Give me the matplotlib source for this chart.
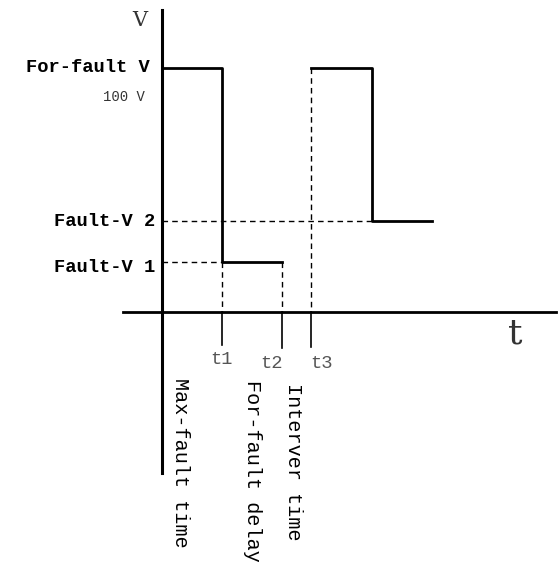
import matplotlib
matplotlib.use("Agg")
import matplotlib.pyplot as plt

# voltage levels (relative units, 0 = time axis)
v_pre = 244
v_fault1 = 50
v_fault2 = 91

# time marks (relative units, 0 = voltage axis)
t1 = 60
t2 = 120
t3 = 149
t_drop2 = 210
t_end = 270

level_labels = ["For-fault V", "Fault-V 2", "Fault-V 1"]
time_labels = ["t1", "t2", "t3"]
span_labels = ["Max-fault time", "For-fault delay", "Interver time"]

mono = ["Liberation Mono", "DejaVu Sans Mono"]

fig = plt.figure(figsize=(5.58, 5.62), dpi=100)
ax = fig.add_axes([0, 0, 1, 1])
ax.set_xlim(-162, 396)
ax.set_ylim(-250, 312)
ax.axis("off")

# axes
ax.plot([-39, 394], [0, 0], color="black", lw=2.0)
ax.plot([0, 0], [-161, 302], color="black", lw=2.2)

# first pulse: pre-fault -> fault V1 until t2
ax.plot([0, t1, t1, t2], [v_pre, v_pre, v_fault1, v_fault1], color="black", lw=2.0)
# second pulse from t3
ax.plot([t3, t_drop2, t_drop2, t_end], [v_pre, v_pre, v_fault2, v_fault2], color="black", lw=2.0)

# dashed guides
dash = dict(color="black", lw=1.0, ls=(0, (4, 3)))
ax.plot([0, t1], [v_fault1, v_fault1], **dash)
ax.plot([0, t_drop2], [v_fault2, v_fault2], **dash)
ax.plot([t1, t1], [v_fault1, 0], **dash)
ax.plot([t2, t2], [v_fault1, 0], **dash)
ax.plot([t3, t3], [v_pre, 0], **dash)

# tick marks below time axis
ticks = [t1, t2, t3]
tick_len = [33, 36, 35]
for t, l in zip(ticks, tick_len):
    ax.plot([t, t], [0, -l], color="black", lw=1.2)

# level labels
ax.text(-22, 292, "V", fontsize=15, family="DejaVu Serif", ha="center", va="center", color="#333333")
ax.text(-12, v_pre, level_labels[0], fontsize=13.5, family=mono, ha="right", va="center", fontweight="bold")
ax.text(-17, v_pre - 29, "100 V", fontsize=10, family=mono, ha="right", va="center", color="#333333")
ax.text(-7, v_fault2, level_labels[1], fontsize=13.5, family=mono, ha="right", va="center", fontweight="bold")
ax.text(-7, v_fault1 - 6, level_labels[2], fontsize=13.5, family=mono, ha="right", va="center", fontweight="bold")

# time labels
ax.text(353, -22, "t", fontsize=26, family="DejaVu Serif", ha="center", va="center", color="#333333")
label_x = [t1, t2 - 10, t3 + 11]
label_y = [-48, -51, -51]
for x, y, s in zip(label_x, label_y, time_labels):
    ax.text(x, y, s, fontsize=13.5, family=mono, ha="center", va="center", color="#555555")

# rotated span labels
span_x = [18, 90, 132]
span_top = [-66, -68, -71]
for x, y, s in zip(span_x, span_top, span_labels):
    ax.text(x, y, s, fontsize=14.5, family=mono, rotation=-90, ha="center", va="top")

fig.savefig("out.png", dpi=100)
